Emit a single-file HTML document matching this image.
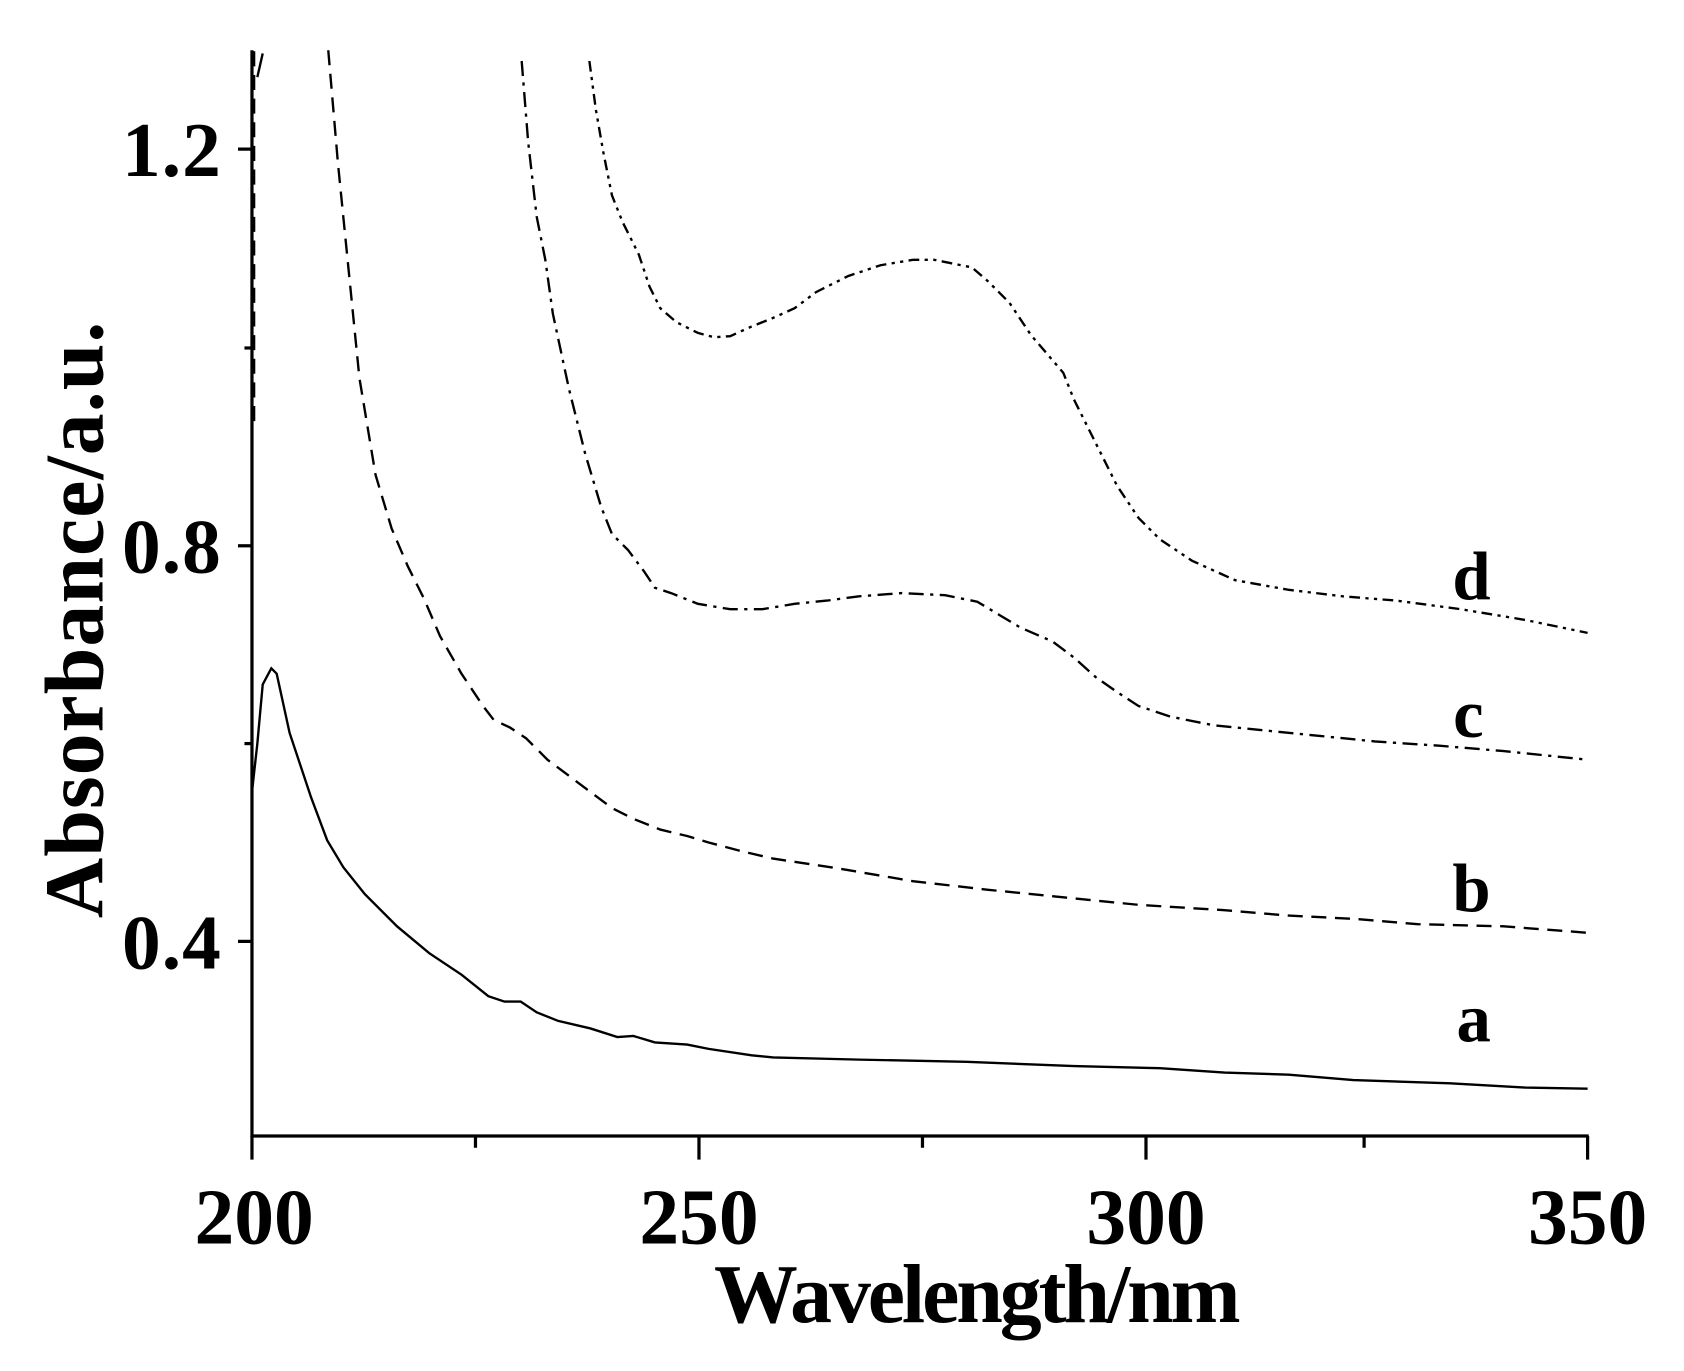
<!DOCTYPE html>
<html><head><meta charset="utf-8"><style>html,body{margin:0;padding:0;background:#fff}svg{display:block}</style></head>
<body>
<svg width="1684" height="1371" viewBox="0 0 1552 1263" preserveAspectRatio="none" xmlns="http://www.w3.org/2000/svg">
<g transform="translate(-0.5,1.7) scale(0.9903)" font-family="Liberation Serif, serif" font-weight="bold" fill="#000">
<g stroke="#000" stroke-width="3" fill="none">
<line x1="235" y1="45" x2="235" y2="1056"/>
<line x1="234" y1="1055" x2="1479" y2="1055"/>
<line x1="222" y1="137" x2="235" y2="137"/><line x1="222" y1="506" x2="235" y2="506"/><line x1="222" y1="874" x2="235" y2="874"/>
<line x1="228" y1="322" x2="235" y2="322"/><line x1="228" y1="690" x2="235" y2="690"/>
<line x1="235" y1="1055" x2="235" y2="1077"/><line x1="651" y1="1055" x2="651" y2="1077"/><line x1="1067" y1="1055" x2="1067" y2="1077"/><line x1="1478" y1="1055" x2="1478" y2="1077"/>
<line x1="443" y1="1055" x2="443" y2="1066"/><line x1="859" y1="1055" x2="859" y2="1066"/><line x1="1270" y1="1055" x2="1270" y2="1066"/>
</g>
<g font-size="72" text-anchor="end">
<text x="206" y="162" textLength="92">1.2</text><text x="206" y="531" textLength="92">0.8</text><text x="206" y="899" textLength="92">0.4</text>
</g>
<g font-size="74" text-anchor="middle">
<text x="237" y="1155">200</text><text x="651" y="1155">250</text><text x="1067" y="1155">300</text><text x="1478" y="1155">350</text>
</g>
<text x="910" y="1228" font-size="78" text-anchor="middle" textLength="490">Wavelength/nm</text>
<text transform="translate(96,575) rotate(-90)" font-size="78" text-anchor="middle" textLength="555">Absorbance/a.u.</text>
<g font-size="64" text-anchor="middle">
<text x="1370" y="556">d</text><text x="1367" y="684">c</text><text x="1370" y="846">b</text><text x="1372" y="967">a</text>
</g>
<g fill="none" stroke="#000" stroke-width="2.2">
<polyline points="235,735 240,690 245,635 253,620 258,625 270,680 290,740 305,780 320,805 340,830 370,860 400,885 430,905 455,925 470,930 485,930 500,940 520,948 550,955 575,963 590,962 610,968 640,970 660,974 700,980 720,982 800,984 900,986 1000,990 1080,992 1140,996 1200,998 1260,1003 1350,1006 1420,1010 1478,1011"/>
<polyline stroke-dasharray="14,8" points="306,45 315,150 325,250 335,350 350,440 365,490 380,525 395,555 410,590 430,625 450,655 460,668 475,675 490,685 510,705 530,720 550,735 570,750 590,760 615,770 640,776 660,782 690,790 720,797 780,806 850,818 920,826 1000,834 1060,840 1140,845 1200,850 1260,853 1320,858 1400,860 1478,866"/>
<polyline stroke-dasharray="14,6,3,6" points="486,55 492,130 500,200 508,240 515,290 530,360 545,420 560,470 570,495 585,510 600,530 610,545 625,550 650,560 680,565 710,565 740,560 770,557 800,553 840,550 880,552 910,558 930,570 950,582 980,595 1000,610 1020,628 1040,642 1060,655 1090,665 1130,673 1180,678 1230,683 1280,688 1340,692 1400,697 1478,705"/>
<polyline stroke-dasharray="10,5,3,5,3,5" points="549,55 555,100 562,140 570,180 580,205 595,235 605,265 615,285 630,298 650,308 665,312 680,311 700,302 720,294 740,285 760,270 790,255 820,245 850,240 870,240 905,247 920,260 940,280 960,310 990,345 1000,370 1020,410 1040,450 1060,480 1080,500 1110,520 1150,538 1200,547 1250,553 1300,557 1360,565 1420,575 1478,587"/>
<polyline stroke-dasharray="14,8" points="237,390 237,45"/>
<polyline points="240,70 245,48"/>
</g>
</g>
</svg>
</body></html>
